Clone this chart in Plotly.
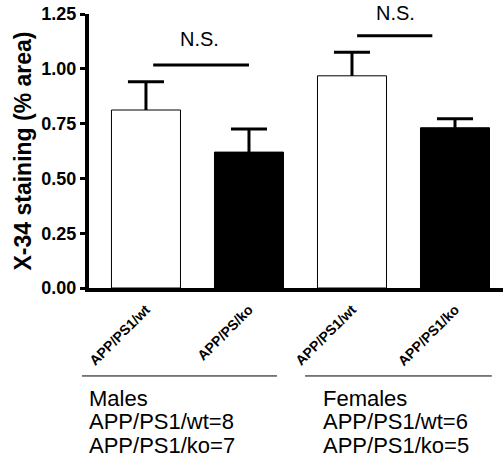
import plotly.graph_objects as go

categories = ["APP/PS1/wt", "APP/PS/ko", "APP/PS1/wt", "APP/PS1/ko"]
means = [0.812, 0.620, 0.968, 0.731]
sems = [0.129, 0.105, 0.107, 0.041]
fills = ["white", "black", "white", "black"]
y_ticks = [0.00, 0.25, 0.50, 0.75, 1.00, 1.25]
y_labels = ["0.00", "0.25", "0.50", "0.75", "1.00", "1.25"]
group_lines = [
    ["Males", "APP/PS1/wt=8", "APP/PS1/ko=7"],
    ["Females", "APP/PS1/wt=6", "APP/PS1/ko=5"],
]

FONT = "Arial, Liberation Sans, sans-serif"
xs = list(range(len(categories)))
CAP = 0.175

fig = go.Figure()
fig.add_trace(go.Bar(
    x=xs, y=means, width=0.67,
    marker=dict(color=fills, line=dict(color="black", width=1)),
    showlegend=False, hoverinfo="skip",
))

# upper error bars (stem + cap) built from the means and SEMs
ex, ey = [], []
for x, m, s in zip(xs, means, sems):
    ex += [x, x, None, x - CAP, x + CAP, None]
    ey += [m, m + s, None, m + s, m + s, None]
fig.add_trace(go.Scatter(x=ex, y=ey, mode="lines",
                         line=dict(color="black", width=3),
                         showlegend=False, hoverinfo="skip"))

# significance lines and labels (label y in paper units: value / 1.25)
sig = [
    dict(x0=0.07, x1=1.0, y=1.017, tx=0.52, ty=1.136 / 1.25),
    dict(x0=2.05, x1=2.78, y=1.151, tx=2.42, ty=1.255 / 1.25),
]
for s in sig:
    fig.add_shape(type="line", xref="x", yref="y", x0=s["x0"], x1=s["x1"],
                  y0=s["y"], y1=s["y"], line=dict(color="black", width=3))
    fig.add_annotation(x=s["tx"], y=s["ty"], xref="x", yref="paper", text="N.S.",
                       showarrow=False, xanchor="center", yanchor="middle",
                       font=dict(family=FONT, size=20, color="black"))

# group lines under axis
for (x0, x1) in [(-0.017, 0.454), (0.522, 0.973)]:
    fig.add_shape(type="line", xref="paper", yref="paper", x0=x0, x1=x1,
                  y0=-0.321, y1=-0.321, line=dict(color="black", width=1))

line_y = [-0.405, -0.489, -0.573]
for gx, lines in zip([-0.005, 0.561], group_lines):
    for ly, txt in zip(line_y, lines):
        fig.add_annotation(x=gx, y=ly, xref="paper", yref="paper", text=txt,
                           showarrow=False, xanchor="left", yanchor="middle",
                           align="left",
                           font=dict(family=FONT, size=22, color="black"))

fig.update_layout(
    width=503, height=467,
    margin=dict(l=89, r=0, t=14, b=179),
    plot_bgcolor="white", paper_bgcolor="white",
    font=dict(family=FONT, color="black"),
)
fig.update_xaxes(
    range=[-0.553, 3.466], tickmode="array", tickvals=xs,
    ticktext=["<b>%s</b>" % c for c in categories],
    tickangle=-45, tickfont=dict(family=FONT, size=14, color="black"),
    ticklabelstandoff=4,
    showline=True, linecolor="black", linewidth=4, ticks="", showgrid=False,
    zeroline=False,
)
fig.update_yaxes(
    range=[0, 1.25], tickmode="array", tickvals=y_ticks,
    ticktext=["<b>%s</b>" % t for t in y_labels],
    tickfont=dict(family=FONT, size=18, color="black"),
    showline=True, linecolor="black", linewidth=4, ticks="outside",
    ticklen=5, tickwidth=3, tickcolor="black", showgrid=False, zeroline=False,
    title=dict(text="<b>X-34 staining (% area)</b>",
               font=dict(family=FONT, size=23, color="black"), standoff=4),
)

fig.write_html("out.html", config={"displayModeBar": False},
               post_script="document.body.style.margin='0';")
